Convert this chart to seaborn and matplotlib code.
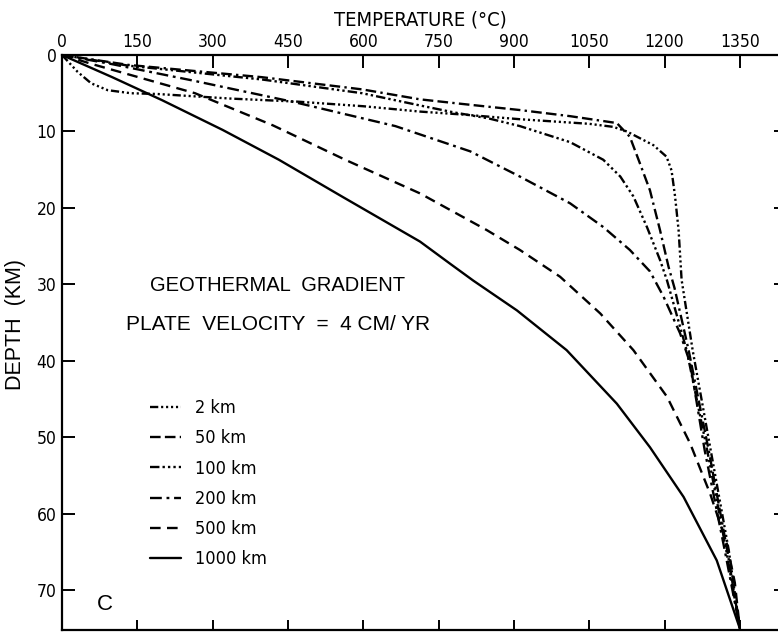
import numpy as np
import pandas as pd
import matplotlib
matplotlib.use("Agg")
import matplotlib.pyplot as plt
import seaborn as sns
from matplotlib import font_manager

# ---------------- data ----------------
labels = ["2 km", "50 km", "100 km", "200 km", "500 km", "1000 km"]

temp_2km = [0, 31, 58, 91, 137, 190, 336, 469, 600, 713, 801, 912, 1050, 1098,
            1125, 1178, 1204, 1214, 1221, 1228, 1234, 1256, 1292, 1328, 1350]
depth_2km = [0, 2.2, 3.7, 4.6, 5.0, 5.1, 5.7, 6.1, 6.7, 7.4, 7.8, 8.4, 9.0, 9.4,
             10.0, 11.8, 13.3, 15.1, 18.5, 22.9, 29.4, 38.6, 51.7, 64.8, 75.0]

temp_50km = [0, 133, 398, 598, 713, 797, 912, 1012, 1105, 1131, 1150, 1171, 1191,
             1208, 1220, 1248, 1288, 1325, 1350]
depth_50km = [0, 1.3, 2.9, 4.5, 5.8, 6.4, 7.2, 8.0, 8.9, 10.7, 14.0, 17.7, 22.9,
              27.7, 30.5, 38.6, 51.7, 64.8, 75.0]

temp_100km = [0, 133, 398, 598, 713, 780, 850, 912, 1012, 1078, 1112, 1138, 1165,
              1191, 1205, 1244, 1285, 1323, 1350]
depth_100km = [0, 1.4, 3.2, 5.0, 6.6, 7.5, 8.3, 9.3, 11.4, 13.7, 15.9, 18.5, 22.5,
               26.8, 29.5, 38.6, 51.7, 64.8, 75.0]

temp_200km = [0, 100, 265, 465, 664, 813, 912, 1012, 1078, 1131, 1171, 1198, 1231,
              1251, 1280, 1320, 1350]
depth_200km = [0, 1.2, 3.4, 6.2, 9.3, 12.6, 15.9, 19.4, 22.5, 25.5, 28.3, 31.6, 36.4,
               40.3, 51.7, 64.8, 75.0]

temp_500km = [0, 66, 265, 420, 564, 713, 846, 912, 992, 1072, 1138, 1205, 1251,
              1291, 1324, 1340, 1350]
depth_500km = [0, 1.3, 5.0, 9.2, 13.7, 18.1, 22.9, 25.5, 29.0, 33.8, 38.6, 44.7, 50.8,
               57.4, 63.9, 69.0, 75.0]

temp_1000km = [0, 100, 199, 320, 432, 560, 713, 773, 819, 906, 1005, 1105, 1171,
               1238, 1304, 1350]
depth_1000km = [0, 2.9, 5.9, 9.8, 13.7, 18.6, 24.4, 27.3, 29.5, 33.4, 38.6, 45.6, 51.3,
                57.8, 66.1, 75.0]

temp_ticks = [0, 150, 300, 450, 600, 750, 900, 1050, 1200, 1350]
depth_ticks = [0, 10, 20, 30, 40, 50, 60, 70]

title_line1 = "GEOTHERMAL  GRADIENT"
title_line2 = "PLATE  VELOCITY  =  4 CM/ YR"
panel_letter = "C"

# ---------------- build long table ----------------
series = [(temp_2km, depth_2km), (temp_50km, depth_50km), (temp_100km, depth_100km),
          (temp_200km, depth_200km), (temp_500km, depth_500km), (temp_1000km, depth_1000km)]
frames = []
for lab, (t, d) in zip(labels, series):
    frames.append(pd.DataFrame({"temp": t, "depth": d, "profile": lab}))
df = pd.concat(frames, ignore_index=True)

dash_map = {
    "2 km": (3.5, 1.2, 0.9, 1.2, 0.9, 1.2, 0.9, 1.2, 0.9, 1.2),
    "50 km": (4.5, 1.8, 4.5, 1.8, 1.0, 1.8),
    "100 km": (4.0, 1.3, 1.0, 1.3, 1.0, 1.3, 1.0, 1.3),
    "200 km": (5.0, 2.0, 1.2, 2.0),
    "500 km": (4.5, 2.7),
    "1000 km": "",
}

# ---------------- style ----------------
sns.set_style("ticks")
names = {f.name for f in font_manager.fontManager.ttflist}
wide = "Liberation Sans" if "Liberation Sans" in names else "DejaVu Sans"
plt.rcParams["font.family"] = ["DejaVu Sans"]
plt.rcParams["font.stretch"] = "condensed"
plt.rcParams["text.color"] = "black"
plt.rcParams["axes.labelcolor"] = "black"

W, H = 778, 639
fig = plt.figure(figsize=(W / 100, H / 100), dpi=100)
left_px, top_px, bottom_px = 62, 55, 630
ax = fig.add_axes([left_px / W, 1 - bottom_px / H, 1 - left_px / W, (bottom_px - top_px) / H])

sns.lineplot(data=df, x="temp", y="depth", style="profile", style_order=labels,
             dashes=dash_map, color="black", linewidth=1.7, sort=False,
             estimator=None, ax=ax, legend=True)

ax.set_xlim(0, 1426)
ax.set_ylim(75.2, 0)

# ticks
ax.set_xticks(temp_ticks)
ax.set_xticklabels([str(v) for v in temp_ticks])
ax.set_yticks(depth_ticks)
ax.set_yticklabels([str(v) for v in depth_ticks])
ax.tick_params(axis="x", which="both", top=True, bottom=True, labeltop=True,
               labelbottom=False, direction="in", length=9.5, width=1.4,
               pad=3, labelsize=12.5, colors="black")
ax.tick_params(axis="y", which="both", left=True, right=True, labelleft=True,
               labelright=False, direction="in", length=9, width=1.4,
               pad=4, labelsize=12.5, colors="black")
for t in ax.yaxis.get_major_ticks():
    t.tick2line.set_markersize(3)
for t in ax.xaxis.get_major_ticks():
    t.tick1line.set_markersize(7.5)
for lab in ax.get_xticklabels() + ax.get_yticklabels():
    lab.set_fontstretch("condensed")

for side in ["top", "left", "bottom"]:
    ax.spines[side].set_linewidth(1.6)
    ax.spines[side].set_color("black")
ax.spines["right"].set_visible(False)

# axis labels
ax.xaxis.set_label_position("top")
ax.set_xlabel("TEMPERATURE (°C)", fontsize=14.5, labelpad=5, fontstretch="condensed")
ax.set_ylabel("DEPTH  (KM)", fontsize=15.5, family=[wide, "DejaVu Sans"],
              fontstretch="normal")
ax.yaxis.set_label_coords(-0.05, 0.532)

# annotation text
ax.text(429, 30.1, title_line1, ha="center", va="center", fontsize=14.5,
        family=[wide, "DejaVu Sans"], fontstretch="normal")
ax.text(431, 35.3, title_line2, ha="center", va="center", fontsize=15,
        family=[wide, "DejaVu Sans"], fontstretch="normal")
ax.text(86, 71.8, panel_letter, ha="center", va="center", fontsize=16,
        family=[wide, "DejaVu Sans"], fontstretch="normal")

# legend
handles, labs = ax.get_legend_handles_labels()
leg = ax.legend(handles, labs, loc="upper left", bbox_to_anchor=(150 / W, 1 - 399 / H),
                bbox_transform=fig.transFigure, frameon=False,
                prop={"size": 13, "stretch": "condensed"},
                handlelength=1.7, handletextpad=0.8, labelspacing=0.68,
                borderpad=0, borderaxespad=0)

fig.savefig("out.png", dpi=100, facecolor="white")
